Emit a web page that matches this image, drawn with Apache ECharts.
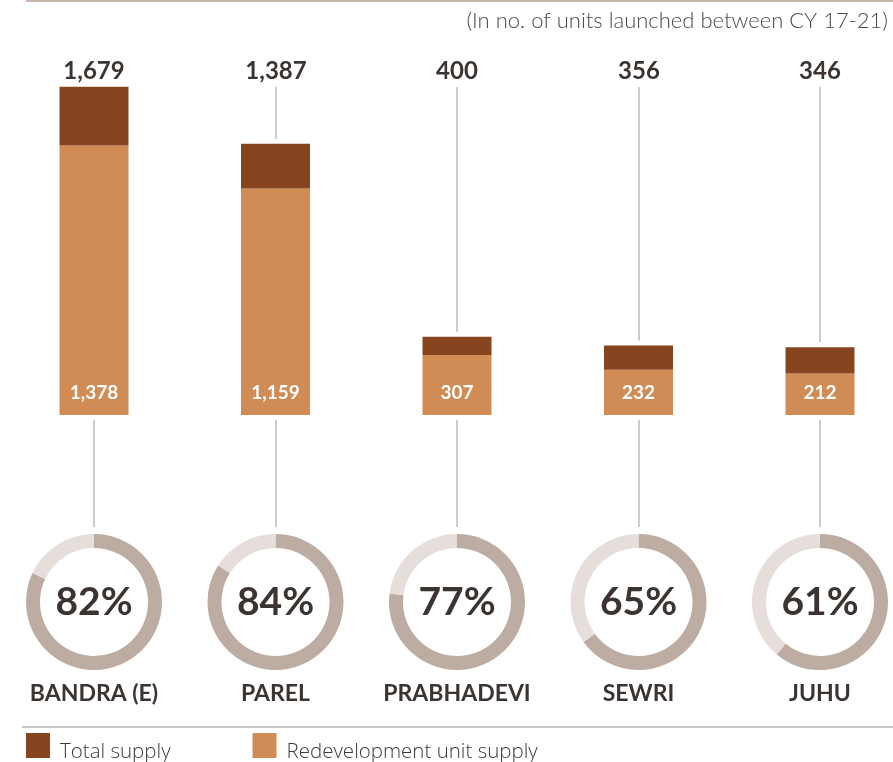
<!DOCTYPE html>
<html>
<head>
<meta charset="utf-8">
<script src="https://cdn.jsdelivr.net/npm/echarts@6/dist/echarts.min.js"></script>
<style>
  html, body { margin: 0; padding: 0; background: #ffffff; }
  #chart { width: 893px; height: 762px; }
</style>
</head>
<body>
<div id="chart"></div>
<script>
// Micro-markets and their supply figures (units launched CY 17-21)
const categories = ['BANDRA (E)', 'PAREL', 'PRABHADEVI', 'SEWRI', 'JUHU'];
const totalSupply = [1679, 1387, 400, 356, 346];
const redevSupply = [1378, 1159, 307, 232, 212];
const redevShare = [82, 84, 77, 65, 61];

const subtitle = '(In no. of units launched between CY 17-21)';
const legendNames = ['Total supply', 'Redevelopment unit supply'];

const COLOR_TOTAL = '#86451f';
const COLOR_REDEV = '#d08c54';
const RING_DARK = '#bdaca2';
const RING_LIGHT = '#e6deda';
const TEXT_DARK = '#3b3431';
const CONNECTOR = '#cccccc';

const fmt = v => v.toLocaleString('en-US');

const chart = echarts.init(document.getElementById('chart'), null, { renderer: 'canvas' });

// Portion of the total that sits above the redevelopment segment
const remainder = totalSupply.map((t, i) => t - redevSupply[i]);

const LABEL_ROW_Y = 71;
const RING_CY = 602;
const RING_R = [54, 68];

const option = {
  animation: false,
  textStyle: { fontFamily: 'Lato' },
  grid: { left: 94, right: 73, top: 24, height: 391 },
  xAxis: {
    type: 'category',
    boundaryGap: false,
    data: categories,
    axisLine: { show: false },
    axisTick: { show: false },
    axisLabel: {
      interval: 0,
      hideOverlap: false,
      margin: 267,
      fontFamily: 'Lato',
      fontWeight: 'bold',
      fontSize: 23,
      color: TEXT_DARK
    }
  },
  yAxis: { type: 'value', min: 0, max: 2000, show: false, splitLine: { show: false } },
  graphic: [
    { type: 'line', shape: { x1: 26, y1: 1, x2: 893, y2: 1 }, style: { stroke: '#c9b5a9', lineWidth: 2 } },
    { type: 'line', shape: { x1: 22, y1: 727, x2: 893, y2: 727 }, style: { stroke: '#c8c8c8', lineWidth: 2 } },
    {
      type: 'text', right: 5, top: 10,
      style: { text: subtitle, font: '300 22px Lato', fill: '#4a4a4a' }
    }
  ],
  legend: {
    left: 26, top: 733, padding: 0,
    itemWidth: 24, itemHeight: 25, itemGap: 82,
    icon: 'rect',
    data: legendNames,
    formatter: name => '{t|' + name + '}',
    textStyle: {
      fontFamily: 'Open Sans', fontWeight: 300, fontSize: 20.5, color: '#3b3b3b',
      padding: [0, 0, 0, 5],
      rich: {
        t: {
          fontFamily: 'Open Sans', fontWeight: 300, fontSize: 20.5, color: '#3b3b3b',
          padding: [14, 0, 0, 0]
        }
      }
    },
    selectedMode: false
  },
  series: [
    {
      name: legendNames[1],
      type: 'bar',
      stack: 'supply',
      barWidth: 69,
      data: redevSupply,
      itemStyle: { color: COLOR_REDEV },
      label: {
        show: true,
        position: 'insideBottom',
        distance: 13,
        formatter: p => fmt(p.value),
        color: '#ffffff',
        fontFamily: 'Lato',
        fontWeight: 'bold',
        fontSize: 19
      },
      silent: true
    },
    {
      name: legendNames[0],
      type: 'bar',
      stack: 'supply',
      barWidth: 69,
      data: remainder,
      itemStyle: { color: COLOR_TOTAL },
      silent: true
    },
    {
      // Total labels in a fixed row plus the connector lines above and below each bar
      type: 'custom',
      data: totalSupply.map((t, i) => [i, t]),
      encode: { x: 0, y: 1 },
      silent: true,
      z: 1,
      renderItem: (params, api) => {
        const i = api.value(0);
        const top = api.coord([i, api.value(1)]);
        const base = api.coord([i, 0]);
        const x = Math.round(top[0]);
        const children = [
          {
            type: 'text',
            style: {
              text: fmt(api.value(1)),
              x: x, y: LABEL_ROW_Y,
              textAlign: 'center', textVerticalAlign: 'middle',
              font: 'bold 24px Lato', fill: TEXT_DARK
            }
          },
          {
            type: 'line',
            shape: { x1: x, y1: base[1] + 5, x2: x, y2: RING_CY - RING_R[1] - 7 },
            style: { stroke: CONNECTOR, lineWidth: 2 }
          }
        ];
        if (top[1] - 5 > LABEL_ROW_Y + 16) {
          children.push({
            type: 'line',
            shape: { x1: x, y1: LABEL_ROW_Y + 16, x2: x, y2: top[1] - 5 },
            style: { stroke: CONNECTOR, lineWidth: 2 }
          });
        }
        return { type: 'group', children };
      }
    }
  ]
};

chart.setOption(option);

// Share rings, centred under each bar on the category axis
const ringSeries = categories.map((c, i) => {
  const cx = chart.convertToPixel({ xAxisIndex: 0 }, c);
  return {
    type: 'pie',
    silent: true,
    radius: RING_R,
    center: [cx, RING_CY],
    startAngle: 90,
    clockwise: true,
    label: { show: false },
    labelLine: { show: false },
    emphasis: { disabled: true },
    data: [
      {
        value: redevShare[i],
        itemStyle: { color: RING_DARK },
        label: {
          show: true,
          position: 'center',
          formatter: redevShare[i] + '%',
          fontFamily: 'Lato',
          fontWeight: 'bold',
          fontSize: 39,
          color: TEXT_DARK
        }
      },
      { value: 100 - redevShare[i], itemStyle: { color: RING_LIGHT } }
    ]
  };
});

chart.setOption({ series: option.series.concat(ringSeries) });
</script>
</body>
</html>
